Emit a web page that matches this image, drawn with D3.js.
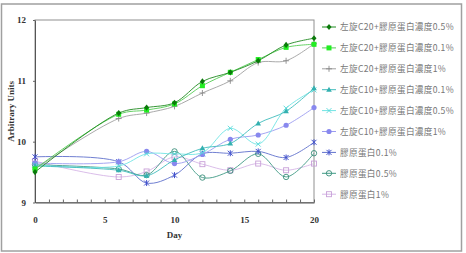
<!DOCTYPE html>
<html><head><meta charset="utf-8">
<script src="https://cdn.jsdelivr.net/npm/d3@7"></script>
<style>body{margin:0;background:#fff}svg{display:block}</style>
</head><body>
<svg id="c" width="466" height="253"></svg>
<script>
const days = [0, 6, 8, 10, 12, 14, 16, 18, 20];
const seriesNames = ["左旋C20+膠原蛋白濃度0.5%","左旋C20+膠原蛋白濃度0.1%","左旋C20+膠原蛋白濃度1%","左旋C10+膠原蛋白濃度0.1%","左旋C10+膠原蛋白濃度0.5%","左旋C10+膠原蛋白濃度1%","膠原蛋白0.1%","膠原蛋白0.5%","膠原蛋白1%"];
const c20_05 = [9.50,10.47,10.56,10.64,10.99,11.14,11.33,11.59,11.70];
const c20_01 = [9.55,10.45,10.52,10.62,10.92,11.14,11.35,11.55,11.60];
const c20_1  = [9.55,10.38,10.47,10.58,10.80,11.00,11.30,11.33,11.61];
const c10_01 = [9.60,9.53,9.44,9.70,9.89,9.97,10.30,10.50,10.88];
const c10_05 = [9.62,9.60,9.80,9.80,9.82,10.22,9.96,10.55,10.85];
const c10_1  = [9.65,9.67,9.84,9.64,9.79,10.04,10.11,10.27,10.56];
const col_01 = [9.75,9.67,9.32,9.45,9.80,9.81,9.84,9.74,9.99];
const col_05 = [9.62,9.55,9.45,9.84,9.41,9.52,9.80,9.42,9.81];
const col_1  = [9.68,9.42,9.51,9.75,9.63,9.53,9.64,9.53,9.64];
const yTicks = [9, 10, 11, 12];
const xTicks = [0, 5, 10, 15, 20];
const xLabel = "Day", yLabel = "Arbitrary Units";

const seriesValues = [c20_05,c20_01,c20_1,c10_01,c10_05,c10_1,col_01,col_05,col_1];
const styles = [
  {line:"#1f8a1f", mark:"#0a7a0a", sym:"diamond"},
  {line:"#55cc55", mark:"#22ee22", sym:"square"},
  {line:"#a0a0a0", mark:"#8a8a8a", sym:"plus"},
  {line:"#40bcbc", mark:"#33b0b0", sym:"triangle"},
  {line:"#70e4e4", mark:"#55d8d8", sym:"x"},
  {line:"#9c9cf0", mark:"#8888ee", sym:"circle"},
  {line:"#6070cc", mark:"#4050cc", sym:"star"},
  {line:"#3f9a85", mark:"#3a8f7a", sym:"circleO"},
  {line:"#d6b6e6", mark:"#c8a0d8", sym:"squareO"}
];

const svg = d3.select("#c");
svg.append("rect").attr("x",1.5).attr("y",4).attr("width",460).attr("height",247)
  .attr("fill","#fff").attr("stroke","#a0a0a0").attr("stroke-width",1.5);

const L=35, R=314, T=20, B=202.5;
const x = d3.scaleLinear().domain([0,20]).range([L,R]);
const y = d3.scaleLinear().domain([9,12]).range([B,T]);

svg.append("rect").attr("x",L).attr("y",T).attr("width",R-L).attr("height",B-T)
  .attr("fill","none").attr("stroke","#909090").attr("stroke-width",1);

const serif = "'Liberation Serif','DejaVu Serif',serif";
const gx = svg.append("g").attr("transform",`translate(0,${B})`)
  .call(d3.axisBottom(x).tickValues(d3.range(0,21,1)).tickSizeInner(-3).tickSizeOuter(0).tickFormat(""));
gx.selectAll("line").attr("stroke","#666");
gx.select(".domain").attr("stroke","#555");
const gxl = svg.append("g").attr("transform",`translate(0,${B})`)
  .call(d3.axisBottom(x).tickValues(xTicks).tickSize(0).tickPadding(14).tickFormat(d3.format("d")));
gxl.select(".domain").remove();
gxl.selectAll("text").attr("font-family",serif).attr("font-size",9).attr("font-weight","bold").attr("fill","#333");

const gy = svg.append("g").attr("transform",`translate(${L},0)`)
  .call(d3.axisLeft(y).tickValues(yTicks).tickSizeInner(2).tickSizeOuter(0).tickPadding(7).tickFormat(d3.format("d")));
gy.select(".domain").attr("stroke","#555");
gy.selectAll("line").attr("stroke","#666");
gy.selectAll("text").attr("font-family",serif).attr("font-size",9).attr("font-weight","bold").attr("fill","#333");

svg.append("text").attr("x",x(10)).attr("y",238).attr("text-anchor","middle")
  .attr("font-family",serif).attr("font-size",9).attr("font-weight","bold").attr("fill","#333").text(xLabel);
svg.append("text").attr("transform",`translate(14,${(T+B)/2}) rotate(-90)`).attr("text-anchor","middle")
  .attr("font-family",serif).attr("font-size",9).attr("font-weight","bold").attr("fill","#333").text(yLabel);

function marker(g, sym, cx, cy, st){
  const s = 2.5;
  if(sym==="diamond") g.append("path").attr("d",`M${cx},${cy-s-0.6}L${cx+s},${cy}L${cx},${cy+s+0.6}L${cx-s},${cy}Z`).attr("fill",st.mark);
  else if(sym==="square") g.append("rect").attr("x",cx-2.5).attr("y",cy-2.5).attr("width",5).attr("height",5).attr("fill",st.mark);
  else if(sym==="triangle") g.append("path").attr("d",`M${cx},${cy-3}L${cx+2.8},${cy+2}L${cx-2.8},${cy+2}Z`).attr("fill",st.mark);
  else if(sym==="circle") g.append("circle").attr("cx",cx).attr("cy",cy).attr("r",2.6).attr("fill",st.mark);
  else if(sym==="circleO") g.append("circle").attr("cx",cx).attr("cy",cy).attr("r",2.7).attr("fill","none").attr("stroke",st.mark).attr("stroke-width",0.9);
  else if(sym==="squareO") g.append("rect").attr("x",cx-2.5).attr("y",cy-2.5).attr("width",5).attr("height",5).attr("fill","none").attr("stroke",st.mark).attr("stroke-width",0.9);
  else if(sym==="plus") g.append("path").attr("d",`M${cx-3},${cy}H${cx+3}M${cx},${cy-3}V${cy+3}`).attr("stroke",st.mark).attr("stroke-width",0.9);
  else if(sym==="x") g.append("path").attr("d",`M${cx-2.5},${cy-2.5}L${cx+2.5},${cy+2.5}M${cx-2.5},${cy+2.5}L${cx+2.5},${cy-2.5}`).attr("stroke",st.mark).attr("stroke-width",0.9);
  else if(sym==="star") g.append("path").attr("d",`M${cx-2.5},${cy-2.5}L${cx+2.5},${cy+2.5}M${cx-2.5},${cy+2.5}L${cx+2.5},${cy-2.5}M${cx},${cy-3}V${cy+3}`).attr("stroke",st.mark).attr("stroke-width",1);
}

const line = d3.line().x((d,i)=>x(days[i])).y(d=>y(d)).curve(d3.curveCatmullRom.alpha(0.5));
const plot = svg.append("g");
for(let k=seriesValues.length-1;k>=0;k--){
  const st = styles[k];
  plot.append("path").attr("d",line(seriesValues[k])).attr("fill","none").attr("stroke",st.line).attr("stroke-width",0.9);
  seriesValues[k].forEach((v,i)=>marker(plot, st.sym, x(days[i]), y(v), st));
}

const lg = svg.append("g");
seriesNames.forEach((name,k)=>{
  const st = styles[k];
  const ly = 27 + k*20.9;
  lg.append("line").attr("x1",322).attr("x2",336).attr("y1",ly).attr("y2",ly).attr("stroke",st.line).attr("stroke-width",1);
  marker(lg, st.sym, 329, ly, st);
  lg.append("text").attr("x",340).attr("y",ly+3.3).attr("font-family","'Noto Sans CJK TC','Noto Sans CJK SC',sans-serif")
    .attr("font-size",8.6).attr("letter-spacing",0.35).attr("fill","#777").text(name);
});
</script>
</body></html>
